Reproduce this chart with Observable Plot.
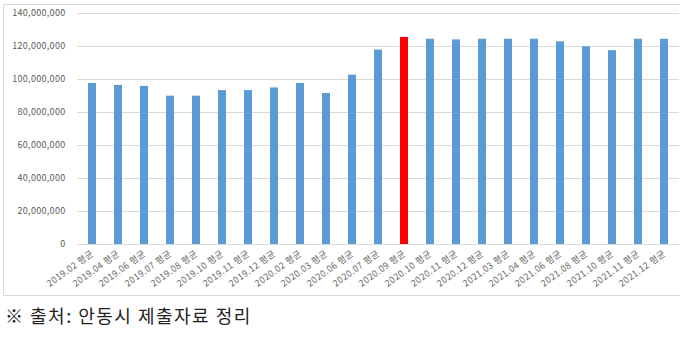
<!DOCTYPE html>
<html>
<head>
<meta charset="utf-8">
<script src="https://cdn.jsdelivr.net/npm/d3@7"></script>
<script src="https://cdn.jsdelivr.net/npm/@observablehq/plot@0.6"></script>
<style>
  html, body { margin: 0; padding: 0; background: #fff; }
  body { width: 680px; height: 355px; position: relative; overflow: hidden; font-family: "Noto Sans CJK KR", "Noto Sans", sans-serif; }
  #frame { position: absolute; left: 3px; top: 4px; width: 700px; height: 292px; border: 1px solid #d9d9d9; box-sizing: border-box; }
  #chart { position: absolute; left: 0; top: 0; }
  #caption { position: absolute; left: 5px; top: 302px; font-size: 18px; color: #222; white-space: nowrap; letter-spacing: 1.5px; }
  #chart svg g[aria-label="x-axis tick label"] text { letter-spacing: 0.4px; }
  #chart svg g[aria-label="y-axis tick label"] text { letter-spacing: 0.3px; }
</style>
</head>
<body>
<div id="frame"></div>
<div id="chart"></div>
<div id="caption">※ 출처: 안동시 제출자료 정리</div>
<script>
const labels = ["2019.02 평균","2019.04 평균","2019.06 평균","2019.07 평균","2019.08 평균","2019.10 평균","2019.11 평균","2019.12 평균",
  "2020.02 평균","2020.03 평균","2020.06 평균","2020.07 평균","2020.09 평균","2020.10 평균","2020.11 평균","2020.12 평균",
  "2021.03 평균","2021.04 평균","2021.06 평균","2021.08 평균","2021.10 평균","2021.11 평균","2021.12 평균"];
const values = [97600000, 96400000, 95800000, 89900000, 89900000, 93300000, 93300000, 94900000,
  97600000, 91500000, 102600000, 117800000, 125500000, 124400000, 124000000, 124400000,
  124400000, 124400000, 122800000, 119800000, 117500000, 124400000, 124400000];
const highlighted = ["2020.09 평균"];
const yTicks = [0, 20000000, 40000000, 60000000, 80000000, 100000000, 120000000, 140000000];

const data = labels.map((label, i) => ({label, value: values[i], hi: highlighted.includes(label)}));

const chart = Plot.plot({
  width: 680,
  height: 300,
  marginLeft: 77,
  marginRight: 1,
  marginTop: 13,
  marginBottom: 56,
  style: {fontFamily: "'Noto Sans CJK KR', 'Noto Sans', sans-serif", fontSize: "9px", color: "#595959", background: "transparent"},
  x: {domain: labels, paddingInner: 0.68, paddingOuter: 0.34, label: null},
  y: {domain: [0, 140000000], label: null},
  marks: [
    Plot.gridY(yTicks, {stroke: "#d9d9d9", strokeOpacity: 1}),
    Plot.axisY(yTicks, {tickSize: 0, tickPadding: 12, tickFormat: d3.format(","), label: null, fill: "#595959"}),
    Plot.axisX({tickSize: 0, tickPadding: 8, tickRotate: -36, label: null, fill: "#666666", fontSize: 9}),
    Plot.barY(data, {x: "label", y: "value", fill: d => d.hi ? "#ff0000" : "#5b9bd5"})
  ]
});
document.getElementById("chart").appendChild(chart);
</script>
</body>
</html>
